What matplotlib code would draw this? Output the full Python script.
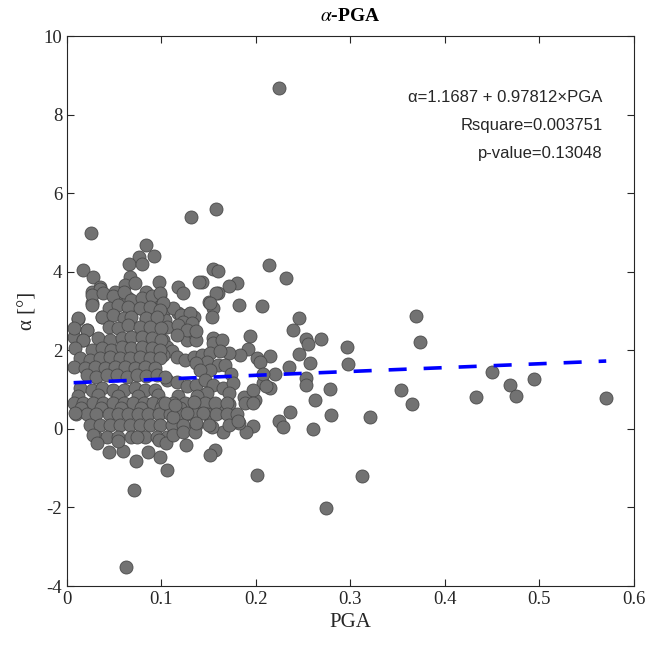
import numpy as np
import matplotlib.pyplot as plt

plt.rcParams["axes.unicode_minus"] = False
plt.rcParams["mathtext.fontset"] = "stix"

# PGA / alpha pairs
pga = [
    # sparse points to the right and outliers
    0.370, 0.374, 0.354, 0.365, 0.433, 0.450, 0.469, 0.475, 0.495, 0.571,
    0.225, 0.062,
    # 0.14 - 0.32 region
    0.155, 0.160, 0.214, 0.1425, 0.232, 0.180, 0.171, 0.160, 0.182, 0.207,
    0.150, 0.155, 0.153, 0.246, 0.239, 0.194, 0.253, 0.255, 0.269, 0.155,
    0.158, 0.192, 0.183, 0.171, 0.215, 0.246, 0.296, 0.257, 0.298, 0.235,
    0.220, 0.253, 0.253, 0.208, 0.215, 0.278, 0.263, 0.189, 0.199, 0.171,
    0.162, 0.155, 0.236, 0.280, 0.321, 0.225, 0.229, 0.260, 0.197, 0.190,
    0.182, 0.174, 0.165, 0.153, 0.157, 0.151, 0.201, 0.312, 0.274,
    # upper part of the cloud
    0.131, 0.158, 0.118, 0.140,
    0.025, 0.0836, 0.092, 0.0765, 0.066, 0.079, 0.017, 0.028, 0.0667, 0.0977,
    0.035, 0.061, 0.072,
    0.123, 0.026, 0.035, 0.026, 0.051, 0.056, 0.065, 0.084, 0.093, 0.098,
    0.066, 0.077, 0.088, 0.098, 0.102, 0.012, 0.037, 0.049, 0.065, 0.084,
    0.104, 0.118, 0.128, 0.134, 0.021, 0.007, 0.017, 0.120, 0.127, 0.134,
    0.137,
    0.158, 0.151, 0.1125, 0.121, 0.130, 0.123, 0.132, 0.1055, 0.118, 0.127,
    0.137, 0.116, 0.155, 0.164, 0.102, 0.1055, 0.111, 0.102, 0.116, 0.125,
    0.134, 0.1425, 0.151, 0.162, 0.148, 0.137, 0.160, 0.167, 0.151, 0.141,
    0.174, 0.201, 0.204, 0.208, 0.211, 0.187, 0.197, 0.1055, 0.116, 0.127,
    0.137, 0.146, 0.155, 0.165, 0.176, 0.172, 0.148,
    # dense core, row by row
    0.026, 0.038, 0.049, 0.060, 0.068, 0.079, 0.090, 0.098, 0.102,
    0.026, 0.044, 0.054, 0.065, 0.077, 0.088, 0.098,
    0.012, 0.037, 0.049, 0.060, 0.068, 0.084, 0.095,
    0.007, 0.021, 0.044, 0.054, 0.065, 0.077, 0.088, 0.100,
    0.017, 0.033, 0.046, 0.058, 0.068, 0.079, 0.090, 0.100,
    0.0085, 0.026, 0.037, 0.047, 0.058, 0.068, 0.079, 0.090, 0.098,
    0.014, 0.024, 0.035, 0.046, 0.056, 0.067, 0.077, 0.088, 0.098,
    0.007, 0.019, 0.030, 0.040, 0.051, 0.061, 0.072, 0.0825, 0.093,
    0.021, 0.031, 0.042, 0.0525, 0.063, 0.074, 0.084, 0.095, 0.104,
    0.014, 0.026, 0.037, 0.049, 0.060, 0.072, 0.0825, 0.093,
    0.012, 0.033, 0.054, 0.075, 0.096, 0.117, 0.138,
    0.007, 0.017, 0.028, 0.038, 0.049, 0.060, 0.070, 0.081, 0.091, 0.102,
    0.1125, 0.125, 0.135, 0.146, 0.157, 0.169, 0.188, 0.197,
    0.015, 0.036, 0.057, 0.078, 0.099, 0.120,
    0.010, 0.021, 0.031, 0.044, 0.054, 0.065, 0.075, 0.086, 0.097, 0.109,
    0.120, 0.128, 0.137, 0.148, 0.158, 0.169, 0.180,
    0.024, 0.035, 0.046, 0.056, 0.067, 0.077, 0.088, 0.098, 0.111, 0.123,
    0.137,
    0.031, 0.042, 0.054, 0.068, 0.0825, 0.095, 0.1055,
    # lower edge of the cloud
    0.044, 0.059, 0.073, 0.086, 0.098, 0.1055, 0.071, 0.0085, 0.028, 0.032,
    0.054, 0.074, 0.097,
    0.126, 0.105, 0.1125, 0.123, 0.135, 0.150, 0.172, 0.181, 0.144, 0.1125,
    0.127, 0.137, 0.104, 0.114, 0.134,
]

alpha = [
    2.87, 2.22, 1.00, 0.64, 0.81, 1.45, 1.13, 0.84, 1.26, 0.79,
    8.68, -3.51,
    4.06, 4.03, 4.17, 3.75, 3.83, 3.71, 3.64, 3.47, 3.16, 3.13,
    3.24, 3.07, 2.86, 2.82, 2.52, 2.37, 2.28, 2.16, 2.29, 2.31,
    2.11, 2.03, 1.88, 1.94, 1.86, 1.91, 2.09, 1.69, 1.65, 1.58,
    1.40, 1.29, 1.12, 1.16, 1.04, 1.01, 0.74, 0.69, 0.74, 0.64,
    0.42, 0.42, 0.42, 0.36, 0.31, 0.19, 0.06, -0.01, 0.08, -0.09,
    0.16, 0.14, -0.07, 0.06, -0.53, -0.66, -1.17, -1.21, -2.02,
    5.40, 5.60, 3.62, 3.73,
    4.98, 4.68, 4.40, 4.37, 4.20, 4.20, 4.05, 3.86, 3.86, 3.75,
    3.62, 3.66, 3.71,
    3.45, 3.49, 3.55, 3.20, 3.49, 3.30, 3.32, 3.49, 3.35, 3.41,
    3.04, 3.07, 2.90, 3.07, 2.98, 2.79, 2.84, 2.94, 2.77, 2.79,
    2.77, 2.94, 2.90, 2.86, 2.52, 2.35, 2.26, 2.43, 2.26, 2.43,
    2.26,
    3.45, 3.20, 3.07, 2.90, 2.94, 2.73, 2.69, 2.60, 2.65, 2.52,
    2.48, 2.39, 2.18, 2.26, 2.26, 2.09, 1.97, 1.88, 1.84, 1.76,
    1.84, 1.88, 1.92, 1.97, 1.71, 1.67, 1.63, 1.63, 1.50, 1.50,
    1.41, 1.80, 1.71, 1.41, 1.08, 0.82, 0.99, 1.25, 1.20, 1.08,
    1.12, 1.25, 1.12, 1.04, 1.16, 0.91, 0.91,
    3.41, 3.45, 3.37, 3.49, 3.28, 3.32, 3.37, 3.45, 3.20,
    3.16, 3.07, 3.16, 3.11, 3.07, 3.11, 3.03,
    2.82, 2.86, 2.90, 2.82, 2.86, 2.82, 2.86,
    2.56, 2.52, 2.60, 2.56, 2.65, 2.60, 2.60, 2.56,
    2.26, 2.31, 2.26, 2.31, 2.35, 2.35, 2.31, 2.26,
    2.05, 2.01, 2.05, 2.01, 2.09, 2.05, 2.09, 2.05, 2.01,
    1.80, 1.76, 1.80, 1.84, 1.80, 1.80, 1.84, 1.80, 1.80,
    1.58, 1.54, 1.58, 1.54, 1.58, 1.58, 1.54, 1.58, 1.54,
    1.37, 1.33, 1.37, 1.37, 1.33, 1.37, 1.35, 1.37, 1.33,
    1.04, 0.99, 1.04, 0.99, 0.99, 1.04, 0.99, 0.99,
    0.84, 0.86, 0.83, 0.85, 0.86, 0.84, 0.85,
    0.67, 0.67, 0.67, 0.67, 0.67, 0.67, 0.67, 0.67, 0.67, 0.67,
    0.67, 0.67, 0.67, 0.67, 0.67, 0.67, 0.67, 0.67,
    0.53, 0.52, 0.54, 0.52, 0.53, 0.52,
    0.38, 0.38, 0.38, 0.38, 0.38, 0.38, 0.38, 0.38, 0.38, 0.38,
    0.38, 0.38, 0.38, 0.38, 0.38, 0.38, 0.38,
    0.10, 0.10, 0.10, 0.10, 0.10, 0.10, 0.10, 0.10, 0.10, 0.10,
    0.10,
    -0.20, -0.20, -0.20, -0.20, -0.20, -0.20, -0.20,
    -0.59, -0.55, -0.81, -0.60, -0.72, -1.04, -1.55, 0.40, -0.15, -0.37,
    -0.32, -0.21, -0.28,
    -0.42, -0.37, -0.15, -0.07, -0.07, 0.10, 0.10, 0.19, 0.40, 0.31,
    0.40, 0.14, 0.65, 0.61, 0.69,
]

intercept = 1.1687
slope = 0.97812
r_square = 0.003751
p_value = 0.13048

x = np.array(pga)
y = np.array(alpha)

fig = plt.figure(figsize=(6.52, 6.49), dpi=100)
ax = fig.add_axes([0.1028, 0.097, 0.869, 0.8475])

ax.scatter(x, y, s=88, facecolor="#727272", edgecolor="#4a4a4a", linewidth=0.6, zorder=2)

xf = np.array([x.min(), x.max()])
ax.plot(xf, intercept + slope * xf, color="#0000ff", linewidth=2.6,
        linestyle=(0, (5.0, 4.7)), zorder=3)

ax.set_xlim(0, 0.6)
ax.set_ylim(-4, 10)
ax.set_xticks(np.arange(0, 0.61, 0.1))
ax.set_yticks(np.arange(-4, 11, 2))
ax.set_xticklabels(["0", "0.1", "0.2", "0.3", "0.4", "0.5", "0.6"])
ax.tick_params(direction="in", top=True, right=True, length=5, width=0.8,
               labelsize=13.5, colors="#262626")
for lab in ax.get_xticklabels() + ax.get_yticklabels():
    lab.set_family("Liberation Serif")
for sp in ax.spines.values():
    sp.set_color("#262626")
    sp.set_linewidth(0.8)

ax.set_xlabel("PGA", family="Liberation Serif", fontsize=15, color="#262626")
ax.set_ylabel("α [°]", family="Liberation Serif", fontsize=15, color="#262626")
ax.set_title("$\\alpha$-PGA", family="Liberation Serif", fontsize=14,
             fontweight="bold", pad=11)

# fit statistics, right aligned near the top right corner
txt = (f"α={intercept} + {slope}×PGA\n"
       f"Rsquare={r_square}\n"
       f"p-value={p_value}")
ax.text(0.567, 7.72, txt, family="Liberation Sans", fontsize=12,
        ha="right", va="center", linespacing=2.1, color="#262626")

fig.savefig("out.png", dpi=100)
